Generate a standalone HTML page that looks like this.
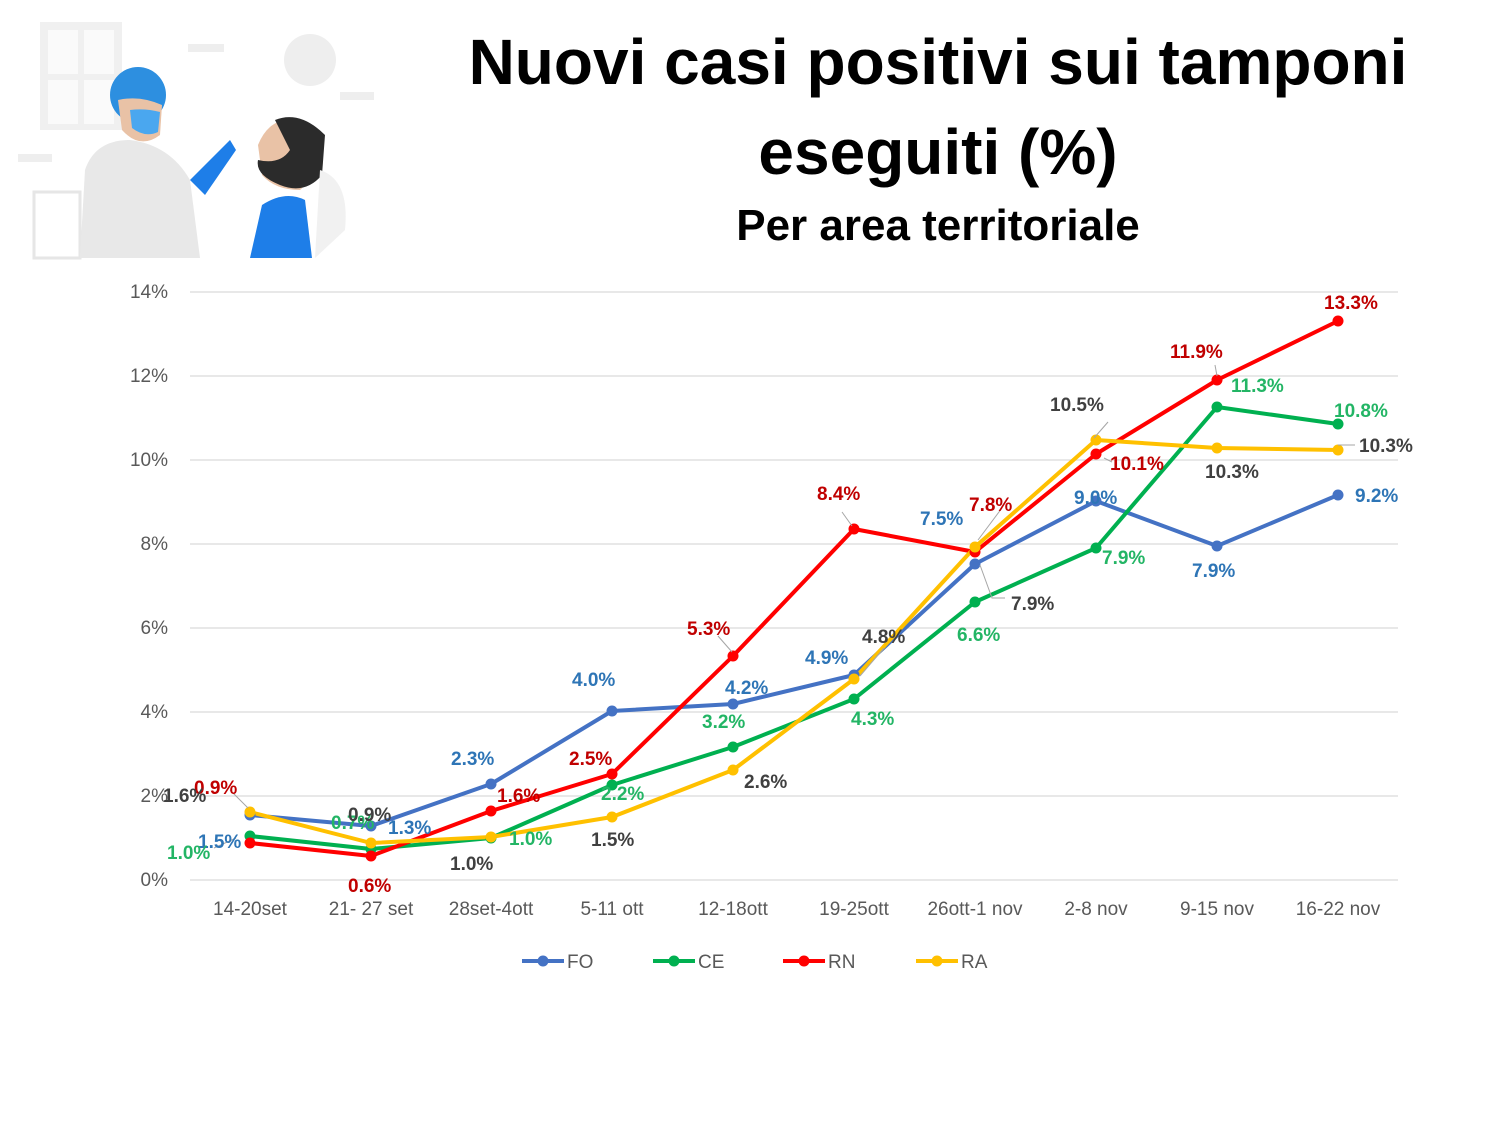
<!DOCTYPE html>
<html><head><meta charset="utf-8"><style>
body{margin:0;background:#fff}
svg{display:block}
text{font-family:"Liberation Sans",sans-serif}
</style></head><body>
<svg width="1500" height="1125" viewBox="0 0 1500 1125" xmlns="http://www.w3.org/2000/svg">
<rect width="1500" height="1125" fill="#fff"/>
<g>
<rect x="40" y="22" width="82" height="108" fill="#f0f0f0"/>
<rect x="48" y="30" width="30" height="44" fill="#fafafa"/><rect x="84" y="30" width="30" height="44" fill="#fafafa"/>
<rect x="48" y="80" width="30" height="44" fill="#fafafa"/><rect x="84" y="80" width="30" height="44" fill="#fafafa"/>
<circle cx="310" cy="60" r="26" fill="#eee"/>
<rect x="188" y="44" width="36" height="8" fill="#eee"/>
<rect x="340" y="92" width="34" height="8" fill="#eee"/>
<rect x="18" y="154" width="34" height="8" fill="#eee"/>
<rect x="34" y="192" width="46" height="66" fill="none" stroke="#e6e6e6" stroke-width="3"/>
<path d="M80 258 L85 170 Q95 140 130 140 Q170 145 190 180 L200 258 Z" fill="#e8e8e8"/>
<circle cx="138" cy="95" r="28" fill="#2d8fe0"/>
<path d="M118 100 Q140 95 162 105 L160 135 Q140 150 122 130 Z" fill="#e9c2a6"/>
<path d="M130 110 Q145 108 160 112 L158 132 Q145 138 132 128 Z" fill="#4aa7ef"/>
<path d="M190 180 L230 140 L236 150 L205 195 Z" fill="#1e7ee8"/>
<path d="M250 258 L262 205 Q285 190 305 200 L312 258 Z" fill="#1e7ee8"/>
<path d="M258 145 Q270 115 300 120 Q328 130 322 170 L300 190 Q275 190 262 175 Z" fill="#e9c2a6"/>
<path d="M275 120 Q300 110 325 135 L322 175 Q305 195 280 185 Q255 175 258 160 Q280 165 290 150 Z" fill="#2b2b2b"/>
<path d="M320 170 Q350 180 345 230 L315 258 Z" fill="#f1f1f1"/>
</g>
<text x="938" y="84" text-anchor="middle" font-size="64" font-weight="bold" fill="#000">Nuovi casi positivi sui tamponi</text>
<text x="938" y="174" text-anchor="middle" font-size="64" font-weight="bold" fill="#000">eseguiti (%)</text>
<text x="938" y="240" text-anchor="middle" font-size="44" font-weight="bold" fill="#000">Per area territoriale</text>
<g stroke="#d9d9d9" stroke-width="1.3">
<line x1="190" y1="292" x2="1398" y2="292"/><line x1="190" y1="376" x2="1398" y2="376"/>
<line x1="190" y1="460" x2="1398" y2="460"/><line x1="190" y1="544" x2="1398" y2="544"/>
<line x1="190" y1="628" x2="1398" y2="628"/><line x1="190" y1="712" x2="1398" y2="712"/>
<line x1="190" y1="796" x2="1398" y2="796"/><line x1="190" y1="880" x2="1398" y2="880"/>
</g>
<g font-size="19" fill="#595959" text-anchor="end">
<text x="168" y="298">14%</text><text x="168" y="382">12%</text><text x="168" y="466">10%</text>
<text x="168" y="550">8%</text><text x="168" y="634">6%</text><text x="168" y="718">4%</text>
<text x="168" y="802">2%</text><text x="168" y="886">0%</text>
</g>
<g font-size="19" fill="#595959" text-anchor="middle">
<text x="250" y="915">14-20set</text><text x="371" y="915">21- 27 set</text><text x="491" y="915">28set-4ott</text>
<text x="612" y="915">5-11 ott</text><text x="733" y="915">12-18ott</text><text x="854" y="915">19-25ott</text>
<text x="975" y="915">26ott-1 nov</text><text x="1096" y="915">2-8 nov</text><text x="1217" y="915">9-15 nov</text>
<text x="1338" y="915">16-22 nov</text>
</g>
<g stroke-width="4" fill="none" stroke-linejoin="round">
<polyline stroke="#4472C4" points="250,815 371,826 491,784 612,711 733,704 854,675 975,564 1096,501 1217,546 1338,495"/>
<polyline stroke="#00B050" points="250,836 371,849 491,838 612,785 733,747 854,699 975,602 1096,548 1217,407 1338,424"/>
<polyline stroke="#FF0000" points="250,843 371,856 491,811 612,774 733,656 854,529 975,552 1096,454 1217,380 1338,321"/>
<polyline stroke="#FFC000" points="250,812 371,843 491,837 612,817 733,770 854,679 975,547 1096,440 1217,448 1338,450"/>
</g>
<g fill="#4472C4"><circle cx="250" cy="815" r="5.5"/><circle cx="371" cy="826" r="5.5"/><circle cx="491" cy="784" r="5.5"/><circle cx="612" cy="711" r="5.5"/><circle cx="733" cy="704" r="5.5"/><circle cx="854" cy="675" r="5.5"/><circle cx="975" cy="564" r="5.5"/><circle cx="1096" cy="501" r="5.5"/><circle cx="1217" cy="546" r="5.5"/><circle cx="1338" cy="495" r="5.5"/></g>
<g fill="#00B050"><circle cx="250" cy="836" r="5.5"/><circle cx="371" cy="849" r="5.5"/><circle cx="491" cy="838" r="5.5"/><circle cx="612" cy="785" r="5.5"/><circle cx="733" cy="747" r="5.5"/><circle cx="854" cy="699" r="5.5"/><circle cx="975" cy="602" r="5.5"/><circle cx="1096" cy="548" r="5.5"/><circle cx="1217" cy="407" r="5.5"/><circle cx="1338" cy="424" r="5.5"/></g>
<g fill="#FF0000"><circle cx="250" cy="843" r="5.5"/><circle cx="371" cy="856" r="5.5"/><circle cx="491" cy="811" r="5.5"/><circle cx="612" cy="774" r="5.5"/><circle cx="733" cy="656" r="5.5"/><circle cx="854" cy="529" r="5.5"/><circle cx="975" cy="552" r="5.5"/><circle cx="1096" cy="454" r="5.5"/><circle cx="1217" cy="380" r="5.5"/><circle cx="1338" cy="321" r="5.5"/></g>
<g fill="#FFC000"><circle cx="250" cy="812" r="5.5"/><circle cx="371" cy="843" r="5.5"/><circle cx="491" cy="837" r="5.5"/><circle cx="612" cy="817" r="5.5"/><circle cx="733" cy="770" r="5.5"/><circle cx="854" cy="679" r="5.5"/><circle cx="975" cy="547" r="5.5"/><circle cx="1096" cy="440" r="5.5"/><circle cx="1217" cy="448" r="5.5"/><circle cx="1338" cy="450" r="5.5"/></g>
<g stroke="#a6a6a6" stroke-width="1" fill="none">
<path d="M214 848 L236 838"/><path d="M230 790 L248 808"/><path d="M1108 422 L1094 438"/><path d="M1002 508 L978 540"/>
<path d="M980 565 L992 598 L1005 598"/><path d="M1215 365 L1217 376"/><path d="M1338 445 L1355 445"/>
<path d="M842 512 L852 526"/><path d="M1104 458 L1112 462"/><path d="M884 648 L860 676"/><path d="M718 636 L732 652"/>
</g>
<g font-size="19" font-weight="bold">
<g fill="#2E75B6">
<text x="198" y="848">1.5%</text><text x="388" y="834">1.3%</text><text x="451" y="765">2.3%</text>
<text x="572" y="686">4.0%</text><text x="725" y="694">4.2%</text><text x="805" y="664">4.9%</text>
<text x="920" y="525">7.5%</text><text x="1074" y="504">9.0%</text><text x="1192" y="577">7.9%</text><text x="1355" y="502">9.2%</text>
</g>
<g fill="#23B565">
<text x="167" y="859">1.0%</text><text x="331" y="829">0.7%</text><text x="509" y="845">1.0%</text>
<text x="601" y="800">2.2%</text><text x="702" y="728">3.2%</text><text x="851" y="725">4.3%</text>
<text x="957" y="641">6.6%</text><text x="1102" y="564">7.9%</text><text x="1231" y="392">11.3%</text><text x="1334" y="417">10.8%</text>
</g>
<g fill="#C00000">
<text x="194" y="794">0.9%</text><text x="348" y="892">0.6%</text><text x="497" y="802">1.6%</text>
<text x="569" y="765">2.5%</text><text x="687" y="635">5.3%</text><text x="817" y="500">8.4%</text>
<text x="969" y="511">7.8%</text><text x="1110" y="470">10.1%</text><text x="1170" y="358">11.9%</text><text x="1324" y="309">13.3%</text>
</g>
<g fill="#404040">
<text x="163" y="802">1.6%</text><text x="348" y="821">0.9%</text><text x="450" y="870">1.0%</text>
<text x="591" y="846">1.5%</text><text x="744" y="788">2.6%</text><text x="862" y="643">4.8%</text>
<text x="1011" y="610">7.9%</text><text x="1050" y="411">10.5%</text><text x="1205" y="478">10.3%</text><text x="1359" y="452">10.3%</text>
</g>
</g>
<g stroke-width="4">
<line x1="522" y1="961" x2="564" y2="961" stroke="#4472C4"/><circle cx="543" cy="961" r="5.5" fill="#4472C4"/>
<line x1="653" y1="961" x2="695" y2="961" stroke="#00B050"/><circle cx="674" cy="961" r="5.5" fill="#00B050"/>
<line x1="783" y1="961" x2="825" y2="961" stroke="#FF0000"/><circle cx="804" cy="961" r="5.5" fill="#FF0000"/>
<line x1="916" y1="961" x2="958" y2="961" stroke="#FFC000"/><circle cx="937" cy="961" r="5.5" fill="#FFC000"/>
</g>
<g font-size="19" fill="#595959">
<text x="567" y="968">FO</text><text x="698" y="968">CE</text><text x="828" y="968">RN</text><text x="961" y="968">RA</text>
</g>
</svg>
</body></html>
